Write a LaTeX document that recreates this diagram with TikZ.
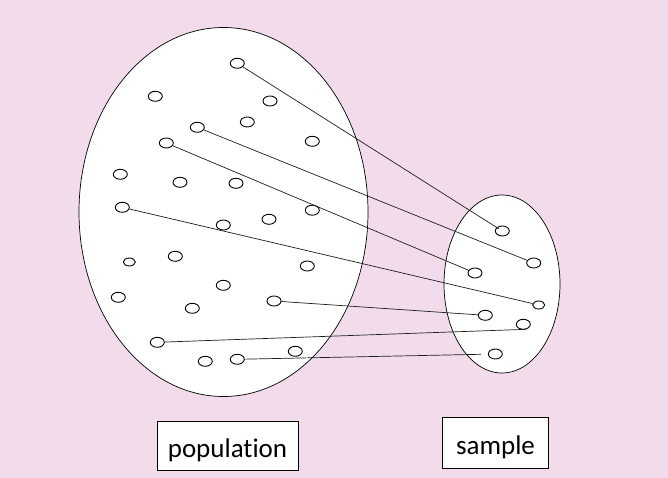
\documentclass[tikz,border=0pt]{standalone}
\usepackage{fontspec}
\setmainfont{Carlito}[Ligatures={NoCommon,NoRare,NoContextual}]
\usetikzlibrary{shapes.geometric}
\definecolor{bgpink}{RGB}{242,220,236}
\definecolor{linegray}{RGB}{30,30,30}
\tikzset{
  dot/.style={ellipse, draw=black, line width=0.9pt, fill=white, minimum width=14pt, minimum height=10pt, inner sep=0pt},
  smalldot/.style={dot, minimum width=12pt, minimum height=8pt},
  link/.style={draw=linegray, line width=0.7pt},
  group/.style={ellipse, draw=black, line width=0.7pt, fill=white, inner sep=0pt},
  labelbox/.style={draw=black, line width=0.9pt, fill=white, inner sep=0pt, text height=24pt, text depth=1pt, font=\fontsize{27}{32}\selectfont}
}
\begin{document}
\begin{tikzpicture}[x=1pt,y=-1pt]
\fill[bgpink] (0,0) rectangle (668,478);
\useasboundingbox (0,0) rectangle (668,478);
% groups
\node[group, minimum width=289pt, minimum height=369pt] (pop) at (223.5,212) {};
\node[group, minimum width=116pt, minimum height=178pt] (smp) at (502,284) {};
% population dots
\node[dot] (p1) at (237.3,63.3) {};
\node[dot] (p2) at (155.3,96.3) {};
\node[dot] (p3) at (270,101) {};
\node[dot] (p4) at (247.3,122) {};
\node[dot] (p5) at (197.3,127.3) {};
\node[dot] (p6) at (166.3,143) {};
\node[dot] (p7) at (312.3,141.3) {};
\node[dot] (p8) at (120.3,174.3) {};
\node[dot] (p9) at (180,182.3) {};
\node[dot] (p10) at (236,183.3) {};
\node[dot] (p11) at (122.3,207.3) {};
\node[dot] (p12) at (312.3,210.2) {};
\node[dot] (p13) at (269,219.3) {};
\node[dot] (p14) at (223.3,225) {};
\node[smalldot] (p15) at (129.3,262) {};
\node[dot] (p16) at (175.3,256.3) {};
\node[dot] (p17) at (307.3,266) {};
\node[dot] (p18) at (223.3,285.3) {};
\node[dot] (p19) at (118.3,297.3) {};
\node[dot] (p20) at (192.3,308.3) {};
\node[dot] (p21) at (274,301) {};
\node[dot] (p22) at (157.3,342.3) {};
\node[dot] (p23) at (205.3,361.3) {};
\node[dot] (p24) at (237.3,359.3) {};
\node[dot] (p25) at (295.3,351.3) {};
% sample dots
\node[dot] (s1) at (502.3,231) {};
\node[dot] (s2) at (533.7,263) {};
\node[dot] (s3) at (475,273) {};
\node[smalldot] (s4) at (538.7,305) {};
\node[dot] (s5) at (485.3,315.3) {};
\node[dot] (s6) at (523.3,324.3) {};
\node[dot] (s7) at (495.3,354) {};
% links
\draw[link, shorten >=4pt] (p1) -- (s1.center);
\draw[link] (p5) -- (s2);
\draw[link] (p6) -- (s3);
\draw[link] (p11) -- (s4);
\draw[link] (p21) -- (s5);
\draw[link] (p22) -- (s6.-60);
\draw[link, shorten >=7pt] (p24) -- (s7);
% labels
\node[labelbox, minimum width=141pt, minimum height=49pt] (lpop) at (227.5,445.5) {population};
\node[labelbox, minimum width=106pt, minimum height=51pt] (lsmp) at (495.5,443) {sample};
\end{tikzpicture}
\end{document}
